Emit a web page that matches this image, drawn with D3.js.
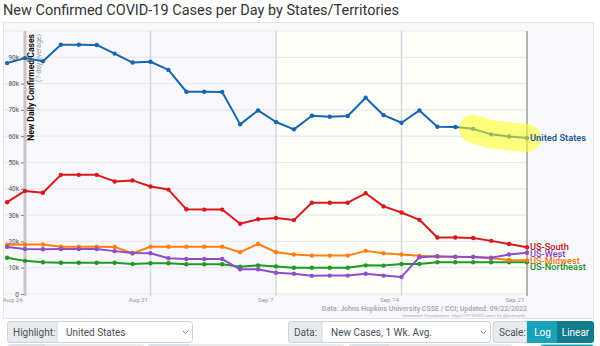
<!DOCTYPE html>
<html>
<head>
<meta charset="utf-8">
<script src="https://cdn.jsdelivr.net/npm/d3@7"></script>
<style>
  body { margin: 0; background: #fff; font-family: Roboto, "Open Sans", sans-serif; }
  svg { display: block; }
</style>
</head>
<body>
<svg id="chart"></svg>
<script>
const width = 600;
const height = 346;

// one point per day, Aug 23 .. Sep 21 2022
const dates = [
  "2022-08-23", "2022-08-24", "2022-08-25", "2022-08-26", "2022-08-27", "2022-08-28",
  "2022-08-29", "2022-08-30", "2022-08-31", "2022-09-01", "2022-09-02", "2022-09-03",
  "2022-09-04", "2022-09-05", "2022-09-06", "2022-09-07", "2022-09-08", "2022-09-09",
  "2022-09-10", "2022-09-11", "2022-09-12", "2022-09-13", "2022-09-14", "2022-09-15",
  "2022-09-16", "2022-09-17", "2022-09-18", "2022-09-19", "2022-09-20", "2022-09-21"
];

// 7-day average new cases, in thousands
const unitedStates = [87.8, 89.7, 88.5, 94.8, 94.8, 94.7, 91.4, 88.0, 88.3, 85.2, 76.9, 76.9, 76.8, 64.5, 69.8,
  65.4, 62.6, 67.8, 67.4, 67.7, 74.6, 68.0, 65.1, 69.8, 63.6, 63.5, 62.8, 60.7, 59.9, 59.3];
const usSouth = [34.9, 39.2, 38.5, 45.3, 45.3, 45.3, 42.8, 43.2, 40.9, 39.7, 32.2, 32.1, 32.1, 26.7, 28.4,
  28.9, 28.1, 34.7, 34.7, 34.7, 38.3, 33.3, 31.0, 28.2, 21.5, 21.5, 21.3, 20.2, 19.0, 17.8];
const usMidwest = [18.7, 18.8, 18.8, 18.0, 18.0, 18.0, 17.9, 15.4, 18.0, 18.0, 18.0, 18.0, 18.0, 15.9, 19.0,
  15.9, 15.0, 14.6, 14.6, 14.6, 16.4, 15.5, 15.0, 14.5, 14.2, 14.1, 14.1, 13.6, 12.9, 12.8];
const usWest = [17.9, 17.1, 17.0, 17.1, 17.1, 17.1, 16.3, 15.6, 15.5, 13.6, 13.3, 13.3, 13.3, 9.4, 9.4,
  8.1, 7.7, 6.9, 7.0, 7.0, 7.7, 7.0, 6.5, 14.0, 14.4, 14.2, 14.1, 13.8, 15.0, 15.7];
const usNortheast = [13.8, 12.6, 12.1, 11.9, 11.9, 11.9, 11.9, 11.4, 11.7, 11.7, 11.3, 11.3, 11.3, 10.4, 10.9,
  10.5, 10.0, 10.0, 10.0, 10.0, 10.9, 10.8, 11.4, 11.4, 12.1, 12.1, 12.1, 12.1, 12.1, 12.1];

const weekTicks = ["2022-08-24", "2022-08-31", "2022-09-07", "2022-09-14", "2022-09-21"];
const yTicks = [0, 10000, 20000, 30000, 40000, 50000, 60000, 70000, 80000, 90000];
const yGrid = [0, 10000, 20000, 30000, 40000, 50000, 60000, 70000, 80000, 90000, 100000];
const highlightFrom = "2022-09-18";

const parse = d3.utcParse("%Y-%m-%d");

const series = [
  { name: "US-Northeast", values: usNortheast, color: "#1f9a22", label: "#14901a" },
  { name: "US-Midwest", values: usMidwest, color: "#ff7f0e", label: "#f07312" },
  { name: "US-West", values: usWest, color: "#8d4fc9", label: "#8340c4" },
  { name: "US-South", values: usSouth, color: "#d7191c", label: "#c80f12" },
  { name: "United States", values: unitedStates, color: "#1865b0", label: "#1d5595" }
].map(s => ({
  ...s,
  points: s.values.map((v, i) => ({ date: parse(dates[i]), value: v * 1000 }))
}));

const x = d3.scaleUtc([parse("2022-08-24"), parse("2022-09-21")], [25, 527]);
const y = d3.scaleLinear([0, 100000], [294, 31]);

const line = d3.line()
  .x(d => x(d.date))
  .y(d => y(d.value));

const svg = d3.select("#chart")
  .attr("width", width)
  .attr("height", height)
  .attr("viewBox", [0, 0, width, height]);

// title
svg.append("text")
  .attr("x", 3)
  .attr("y", 15)
  .attr("fill", "#333")
  .style("font-size", "14.5px")
  .text("New Confirmed COVID-19 Cases per Day by States/Territories");

// chart panel
svg.append("rect")
  .attr("x", 3.5).attr("y", 22.5)
  .attr("width", 590).attr("height", 296)
  .attr("fill", "#f8f8fc")
  .attr("stroke", "#e3e3e8");

// last two weeks shaded
svg.append("rect")
  .attr("x", x(parse("2022-09-07")))
  .attr("y", y(100000))
  .attr("width", x(parse("2022-09-21")) - x(parse("2022-09-07")))
  .attr("height", y(0) - y(100000))
  .attr("fill", "#fefef8");

// horizontal grid
svg.append("g")
  .selectAll("line")
  .data(yGrid)
  .join("line")
  .attr("x1", 4).attr("x2", x(parse("2022-09-21")))
  .attr("y1", d => y(d)).attr("y2", d => y(d))
  .attr("stroke", "#e8e8ee")
  .attr("stroke-width", 1.2);

// week grid lines
svg.append("g")
  .selectAll("line")
  .data(weekTicks)
  .join("line")
  .attr("x1", d => x(parse(d))).attr("x2", d => x(parse(d)))
  .attr("y1", y(100000)).attr("y2", y(0) + 2)
  .attr("stroke", (d, i) => i === 0 ? "#c6c6ca" : i === weekTicks.length - 1 ? "#9c9c9c" : "#d6d6da")
  .attr("stroke-width", (d, i) => i === 0 ? 3 : 1.5);

// y axis
const yAxis = svg.append("g")
  .attr("transform", "translate(24,0)")
  .call(d3.axisLeft(y).tickValues(yTicks)
    .tickFormat(d => d === 0 ? "0" : d / 1000 + "k")
    .tickSize(3).tickPadding(2));
yAxis.select(".domain").remove();
yAxis.selectAll("line").attr("stroke", "#888");
yAxis.selectAll("text")
  .attr("fill", "#555")
  .style("font-size", "6.5px")
  .style("font-family", "Roboto, sans-serif");

// x axis labels
const xAxis = svg.append("g")
  .attr("transform", `translate(0,${y(0)})`)
  .call(d3.axisBottom(x).tickValues(weekTicks.map(parse))
    .tickFormat(d3.utcFormat("%b %-d"))
    .tickSize(0));
xAxis.select(".domain").remove();
xAxis.selectAll("text")
  .attr("text-anchor", "end")
  .attr("dx", "-3")
  .attr("y", 3.5)
  .attr("fill", "#999")
  .style("font-size", "6.2px")
  .style("font-family", "Roboto, sans-serif");

// axis title
svg.append("text")
  .attr("transform", `translate(33.5,${y(100000) + 3}) rotate(-90)`)
  .attr("text-anchor", "end")
  .attr("fill", "#111")
  .style("font-size", "8.6px")
  .style("font-weight", "700")
  .text("New Daily Confirmed Cases");
svg.append("text")
  .attr("transform", `translate(41,${y(100000) + 3}) rotate(-90)`)
  .attr("text-anchor", "end")
  .attr("fill", "#999")
  .style("font-size", "7px")
  .text("(7-day average)");

// series lines and dots
series.forEach(s => {
  svg.append("path")
    .datum(s.points)
    .attr("fill", "none")
    .attr("stroke", s.color)
    .attr("stroke-width", 2)
    .attr("stroke-linejoin", "round")
    .attr("d", line);

  svg.append("g")
    .selectAll("circle")
    .data(s.points)
    .join("circle")
    .attr("cx", d => x(d.date))
    .attr("cy", d => y(d.value))
    .attr("r", 2.2)
    .attr("fill", s.color);
});

// highlight of the latest days of the selected series
const us = series.find(s => s.name === "United States");
svg.append("path")
  .datum(us.points.filter(d => d.date >= parse(highlightFrom)))
  .attr("fill", "none")
  .attr("stroke", "#ffff1a")
  .attr("stroke-opacity", 0.55)
  .attr("stroke-width", 28)
  .attr("stroke-linecap", "round")
  .attr("stroke-linejoin", "round")
  .attr("d", line);

// end labels, nudged apart
const labels = series.map(s => ({ ...s, ly: y(s.points[s.points.length - 1].value) }))
  .sort((a, b) => a.ly - b.ly);
for (let i = 1; i < labels.length; i++) {
  labels[i].ly = Math.max(labels[i].ly, labels[i - 1].ly + 6.4);
}
svg.append("g")
  .selectAll("text")
  .data(labels)
  .join("text")
  .attr("x", 530)
  .attr("y", d => d.ly)
  .attr("dy", "0.35em")
  .attr("fill", d => d.label)
  .style("font-size", d => d.name === "United States" ? "9.3px" : "9.2px")
  .style("font-weight", d => d.name === "United States" ? "600" : "500")
  .text(d => d.name);

// source
svg.append("text")
  .attr("x", 527).attr("y", 311)
  .attr("text-anchor", "end")
  .attr("fill", "#aaa")
  .style("font-size", "7px")
  .style("font-weight", "600")
  .text("Data: Johns Hopkins University CSSE / CCI; Updated: 09/22/2022");
svg.append("text")
  .attr("x", 527).attr("y", 316.5)
  .attr("text-anchor", "end")
  .attr("fill", "#aaa")
  .style("font-size", "4.4px")
  .text("Interactive Visualization: https://91-DIVOC.com/ by @profwade_");

// controls below the chart
const controls = svg.append("g").style("font-size", "10px");

const addGroup = (x0, xSplit, x1, top, labelText, valueText) => {
  controls.append("rect")
    .attr("x", x0 + 0.5).attr("y", top + 0.5)
    .attr("width", x1 - x0).attr("height", 21)
    .attr("rx", 3)
    .attr("fill", "#fff").attr("stroke", "#ced4da");
  controls.append("path")
    .attr("d", `M${xSplit},${top + 0.5}H${x0 + 3.5}a3,3 0 0 0 -3,3v15a3,3 0 0 0 3,3H${xSplit}Z`)
    .attr("fill", "#e9ecef").attr("stroke", "#ced4da");
  if (labelText) {
    controls.append("text")
      .attr("x", x0 + 6).attr("y", top + 14.5)
      .attr("fill", "#495057")
      .text(labelText);
  }
  if (valueText) {
    controls.append("text")
      .attr("x", xSplit + 9).attr("y", top + 14.5)
      .attr("fill", "#495057")
      .text(valueText);
    controls.append("path")
      .attr("d", `M${x1 - 9},${top + 10}l2.5,2.5l2.5,-2.5`)
      .attr("fill", "none")
      .attr("stroke", "#777")
      .attr("stroke-width", 0.9);
  }
};

addGroup(7, 57, 192, 321, "Highlight:", "United States");
addGroup(288, 322, 490, 321, "Data:", "New Cases, 1 Wk. Avg.");

controls.append("path")
  .attr("d", "M527,321.5H496a3,3 0 0 0 -3,3v15a3,3 0 0 0 3,3H527Z")
  .attr("fill", "#e9ecef").attr("stroke", "#ced4da");
controls.append("text")
  .attr("x", 499).attr("y", 335.5)
  .attr("fill", "#495057")
  .text("Scale:");
controls.append("rect")
  .attr("x", 527).attr("y", 321)
  .attr("width", 31).attr("height", 22)
  .attr("fill", "#17a2b8");
controls.append("path")
  .attr("d", "M557,321H591a3,3 0 0 1 3,3v16a3,3 0 0 1 -3,3H557Z")
  .attr("fill", "#117a8b");
controls.append("text")
  .attr("x", 542.5).attr("y", 335.5)
  .attr("text-anchor", "middle")
  .attr("fill", "#fff")
  .text("Log");
controls.append("text")
  .attr("x", 575.5).attr("y", 335.5)
  .attr("text-anchor", "middle")
  .attr("fill", "#fff")
  .text("Linear");

// second row, mostly out of view
addGroup(7, 44, 144, 344.5, "", "");
addGroup(147, 188, 344, 344.5, "", "");
addGroup(348, 388, 512, 344.5, "", "");
controls.append("rect")
  .attr("x", 540).attr("y", 344.5)
  .attr("width", 54).attr("height", 21)
  .attr("rx", 3)
  .attr("fill", "#17a2b8");
</script>
</body>
</html>
